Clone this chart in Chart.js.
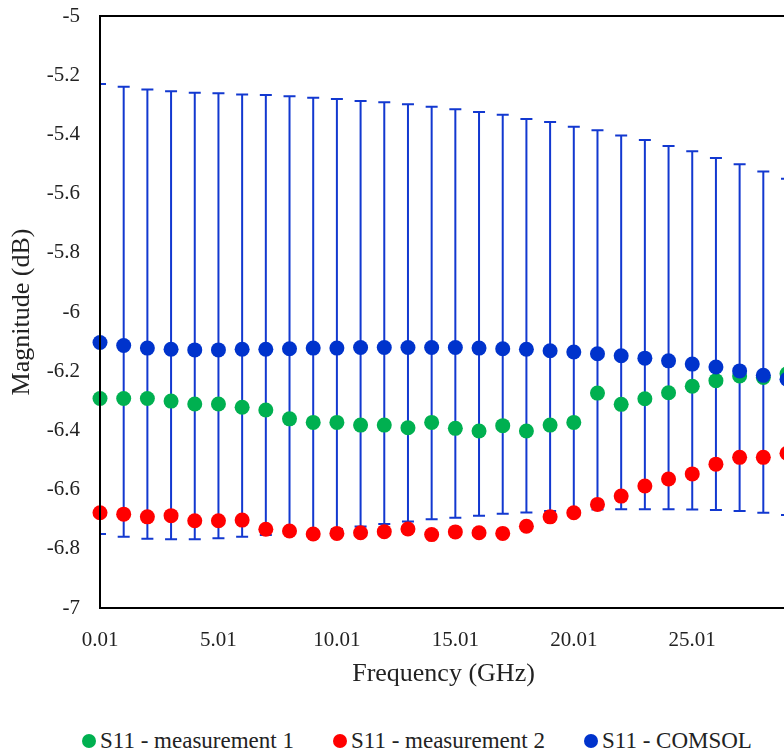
<!DOCTYPE html>
<html>
<head>
<meta charset="utf-8">
<title>S11 magnitude</title>
<script src="https://cdn.jsdelivr.net/npm/chart.js@4.4.1/dist/chart.umd.min.js"></script>
<style>
  html, body { margin: 0; padding: 0; background: #fff; overflow: hidden; }
  #frame { position: relative; width: 784px; height: 754px; overflow: hidden; }
  #plot { position: absolute; left: 0; top: 0; width: 800px; height: 700px; }
  #legend {
    position: absolute; left: 82px; top: 729px;
    display: flex; gap: 39px;
    font: 23px "Liberation Serif", serif; line-height: 24px; color: #222;
    white-space: nowrap;
  }
  #legend span.item { display: flex; align-items: center; }
  #legend i { display: inline-block; width: 14px; height: 14px; border-radius: 50%; margin-right: 4px; }
</style>
</head>
<body>
<div id="frame">
  <div id="plot"><canvas id="s11"></canvas></div>
  <div id="legend"></div>
</div>
<script>
// frequency points (GHz)
const freqs = [0.01, 1.01, 2.01, 3.01, 4.01, 5.01, 6.01, 7.01, 8.01, 9.01,
               10.01, 11.01, 12.01, 13.01, 14.01, 15.01, 16.01, 17.01, 18.01, 19.01,
               20.01, 21.01, 22.01, 23.01, 24.01, 25.01, 26.01, 27.01, 28.01, 29.01];

const meas1 = [-6.292, -6.292, -6.292, -6.301, -6.311, -6.311, -6.322, -6.331, -6.361, -6.373,
               -6.373, -6.382, -6.382, -6.391, -6.373, -6.393, -6.402, -6.384, -6.402, -6.382,
               -6.373, -6.274, -6.312, -6.293, -6.273, -6.251, -6.232, -6.216, -6.221, -6.209];

const meas2 = [-6.678, -6.683, -6.692, -6.688, -6.705, -6.705, -6.703, -6.734, -6.740, -6.750,
               -6.748, -6.746, -6.742, -6.733, -6.752, -6.743, -6.746, -6.748, -6.724, -6.692,
               -6.678, -6.650, -6.622, -6.588, -6.564, -6.547, -6.514, -6.491, -6.491, -6.477];

const comsol = [-6.103, -6.113, -6.122, -6.126, -6.128, -6.128, -6.126, -6.126, -6.124, -6.122,
                -6.122, -6.120, -6.120, -6.120, -6.120, -6.120, -6.122, -6.124, -6.126, -6.131,
                -6.135, -6.141, -6.148, -6.156, -6.165, -6.176, -6.186, -6.199, -6.214, -6.227];

// error bar ends for the COMSOL series
const comsolHigh = [-5.230, -5.239, -5.248, -5.254, -5.259, -5.261, -5.265, -5.267, -5.271, -5.276,
                    -5.280, -5.287, -5.291, -5.298, -5.307, -5.315, -5.324, -5.334, -5.348, -5.358,
                    -5.374, -5.386, -5.404, -5.419, -5.439, -5.457, -5.480, -5.501, -5.525, -5.550];
const comsolLow  = [-6.750, -6.759, -6.766, -6.768, -6.768, -6.764, -6.759, -6.753, -6.747, -6.740,
                    -6.733, -6.725, -6.716, -6.708, -6.700, -6.695, -6.688, -6.682, -6.677, -6.672,
                    -6.669, -6.667, -6.666, -6.666, -6.666, -6.667, -6.669, -6.672, -6.678, -6.686];

const xTicks = [0.01, 5.01, 10.01, 15.01, 20.01, 25.01];
const xTickLabels = ['0.01', '5.01', '10.01', '15.01', '20.01', '25.01'];
const yTicks = [-5, -5.2, -5.4, -5.6, -5.8, -6, -6.2, -6.4, -6.6, -6.8, -7];

const seriesNames = ['S11 - measurement 1', 'S11 - measurement 2', 'S11 - COMSOL'];
const seriesColors = ['#00B050', '#FF0000', '#0033CC'];

const FONT = '"Liberation Serif", serif';
const TXT = '#222';

function pts(ys){ return freqs.map((x, i) => ({ x, y: ys[i] })); }

// blue vertical error bars with caps, drawn under the markers
const errorBars = {
  id: 'errorBars',
  beforeDatasetsDraw(chart){
    const { ctx, chartArea: a, scales: { x, y } } = chart;
    ctx.save();
    ctx.beginPath();
    ctx.rect(a.left, a.top, a.right - a.left, a.bottom - a.top);
    ctx.clip();
    ctx.strokeStyle = '#1238D0';
    ctx.lineWidth = 2;
    freqs.forEach((f, i) => {
      const px = x.getPixelForValue(f);
      const top = y.getPixelForValue(comsolHigh[i]);
      const bot = y.getPixelForValue(comsolLow[i]);
      ctx.beginPath();
      ctx.moveTo(px, top); ctx.lineTo(px, bot);
      ctx.moveTo(px - 6, top); ctx.lineTo(px + 6, top);
      ctx.moveTo(px - 6, bot); ctx.lineTo(px + 6, bot);
      ctx.stroke();
    });
    ctx.restore();
  }
};

// black frame around the plot area
const frameBox = {
  id: 'frameBox',
  afterDraw(chart){
    const { ctx, chartArea: a } = chart;
    ctx.save();
    ctx.strokeStyle = '#000';
    ctx.lineWidth = 2;
    ctx.strokeRect(a.left, a.top, a.right - a.left, a.bottom - a.top);
    ctx.restore();
  }
};

// invisible tick marks give the gap between labels and axis
const hiddenGrid = { display: true, drawOnChartArea: false, drawTicks: true, tickLength: 20, color: 'rgba(0,0,0,0)' };

new Chart(document.getElementById('s11'), {
  type: 'scatter',
  data: {
    datasets: [
      { label: seriesNames[0], data: pts(meas1),  backgroundColor: seriesColors[0], order: 2 },
      { label: seriesNames[1], data: pts(meas2),  backgroundColor: seriesColors[1], order: 1 },
      { label: seriesNames[2], data: pts(comsol), backgroundColor: seriesColors[2], order: 0 },
    ].map(d => Object.assign(d, { pointRadius: 7.5, pointHoverRadius: 7.5, borderWidth: 0, clip: false })),
  },
  options: {
    responsive: true,
    maintainAspectRatio: false,
    animation: false,
    events: [],
    layout: { padding: { top: 16, right: 13, bottom: 0, left: 0 } },
    plugins: { legend: { display: false }, tooltip: { enabled: false } },
    scales: {
      x: {
        type: 'linear',
        min: freqs[0],
        max: freqs[freqs.length - 1],
        afterFit(s){ s.height = 92; },
        afterBuildTicks(s){ s.ticks = xTicks.map(v => ({ value: v })); },
        grid: hiddenGrid,
        border: { display: false },
        ticks: {
          padding: 0,
          color: TXT,
          font: { family: FONT, size: 21 },
          maxRotation: 0,
          autoSkip: false,
          callback: (v) => xTickLabels[xTicks.indexOf(v)] ?? '',
        },
        title: {
          display: true,
          text: 'Frequency (GHz)',
          color: TXT,
          font: { family: FONT, size: 26 },
          padding: { top: 0, bottom: 10 },
        },
      },
      y: {
        min: -7,
        max: -5,
        afterFit(s){ s.width = 100; },
        afterBuildTicks(s){ s.ticks = yTicks.map(v => ({ value: v })); },
        grid: hiddenGrid,
        border: { display: false },
        ticks: {
          padding: 0,
          color: TXT,
          font: { family: FONT, size: 21 },
          callback: (v) => String(Number(v.toFixed(1))),
        },
        title: {
          display: true,
          text: 'Magnitude (dB)',
          color: TXT,
          font: { family: FONT, size: 26 },
          padding: { top: 7, bottom: 0 },
        },
      },
    },
  },
  plugins: [errorBars, frameBox],
});

// legend row under the chart
const legendEl = document.getElementById('legend');
seriesNames.forEach((name, i) => {
  const item = document.createElement('span');
  item.className = 'item';
  const dot = document.createElement('i');
  dot.style.background = seriesColors[i];
  item.appendChild(dot);
  item.appendChild(document.createTextNode(name));
  legendEl.appendChild(item);
});
</script>
</body>
</html>
